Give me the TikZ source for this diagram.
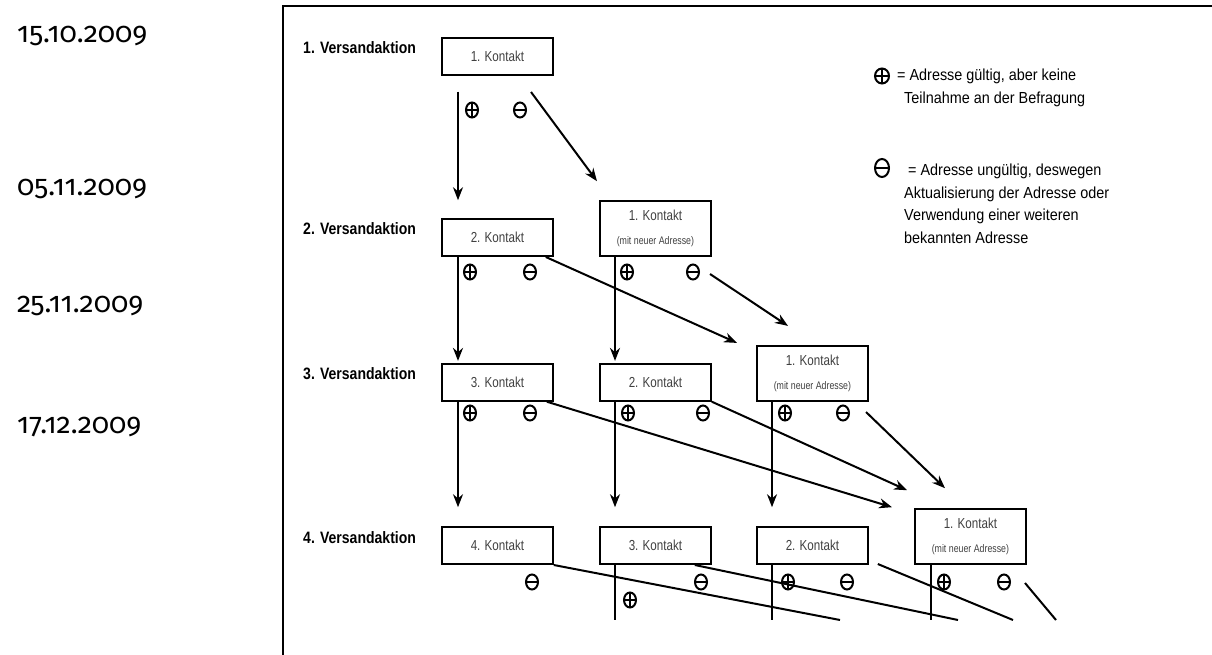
\documentclass[tikz,border=0pt]{standalone}
\usepackage{fontspec}
\setmainfont{Liberation Sans}
\newfontfamily\schmal[FakeStretch=0.9]{Liberation Sans}
\newfontfamily\kastenfont[FakeStretch=0.8]{Liberation Sans}
\newfontfamily\aktionfont[FakeStretch=0.85]{Liberation Sans}
\newfontfamily\datumfont[Numbers=OldStyle]{Fira Sans}
\usetikzlibrary{arrows.meta, shapes.geometric, positioning}

\tikzset{
  aktion/.style={anchor=west, inner sep=0pt, font=\aktionfont\bfseries\fontsize{16.5}{18}\selectfont},
  datum/.style={anchor=base west, inner sep=0pt, font=\datumfont\fontsize{28.5}{30}\selectfont},
  kontakt/.style={draw, line width=1.8pt, anchor=south west, minimum width=111pt, minimum height=37pt,
    inner sep=0pt, align=center, text=black!75, font=\kastenfont\fontsize{14.5}{16}\selectfont},
  neu/.style={kontakt, minimum height=55pt},
  pfeil/.style={line width=2pt, -{Stealth[length=13pt,width=10pt]}},
  linie/.style={line width=2pt},
  zeichen/.style={ellipse, draw, line width=2pt, minimum width=12pt, minimum height=15pt, inner sep=0pt},
  gueltig/.style={zeichen, path picture={\draw[line width=2pt]
    (path picture bounding box.west) -- (path picture bounding box.east)
    (path picture bounding box.north) -- (path picture bounding box.south);}},
  ungueltig/.style={zeichen, path picture={\draw[line width=2pt]
    (path picture bounding box.west) -- (path picture bounding box.east);}},
  legende/.style={anchor=north west, inner sep=0pt, align=left, font=\schmal\fontsize{16}{22.5}\selectfont},
}

\begin{document}
\begin{tikzpicture}[x=1pt, y=-1pt]
  \useasboundingbox (0,0) rectangle (1212,655);
  % Rahmen
  \draw[line width=1.4pt] (283,655) -- (283,6) -- (1212,6);

  % Termine
  \node[datum] (t1) at (17,43) {15.10.2009};
  \node[datum] (t2) at (17,196) {05.11.2009};
  \node[datum] (t3) at (17,312) {25.11.2009};
  \node[datum] (t4) at (17,433) {17.12.2009};

  % Versandaktionen
  \node[aktion] (v1) at (303,48) {1. Versandaktion};
  \node[aktion] (v2) at (303,229) {2. Versandaktion};
  \node[aktion] (v3) at (303,374) {3. Versandaktion};
  \node[aktion] (v4) at (303,538) {4. Versandaktion};

  % Kontakte
  \node[kontakt] (k11) at (441,75.7) {1. Kontakt};

  \node[kontakt] (k21) at (441,257) {2. Kontakt};
  \node[neu] (k22) at (599,257) {1. Kontakt\\[8pt]{\fontsize{11}{12}\selectfont (mit neuer Adresse)}};

  \node[kontakt] (k31) at (441,401.7) {3. Kontakt};
  \node[kontakt] (k32) at (599,401.7) {2. Kontakt};
  \node[neu] (k33) at (756,401.7) {1. Kontakt\\[8pt]{\fontsize{11}{12}\selectfont (mit neuer Adresse)}};

  \node[kontakt] (k41) at (441,565) {4. Kontakt};
  \node[kontakt] (k42) at (599,565) {3. Kontakt};
  \node[kontakt] (k43) at (756,565) {2. Kontakt};
  \node[neu] (k44) at (914,565) {1. Kontakt\\[8pt]{\fontsize{11}{12}\selectfont (mit neuer Adresse)}};

  % Zeichen
  \node[gueltig] (p11) at (472,110) {};
  \node[ungueltig] (m11) at (520,110) {};

  \node[gueltig] (p21) at (470,272) {};
  \node[ungueltig] (m21) at (530,272) {};
  \node[gueltig] (p22) at (627,272) {};
  \node[ungueltig] (m22) at (693,272) {};

  \node[gueltig] (p31) at (470,413) {};
  \node[ungueltig] (m31) at (530,413) {};
  \node[gueltig] (p32) at (628,413) {};
  \node[ungueltig] (m32) at (703,413) {};
  \node[gueltig] (p33) at (785,413) {};
  \node[ungueltig] (m33) at (843,413) {};

  \node[ungueltig] (m41) at (532,582) {};
  \node[gueltig] (p42) at (630,600) {};
  \node[ungueltig] (m42) at (701,582) {};
  \node[gueltig] (p43) at (788,582) {};
  \node[ungueltig] (m43) at (847,582) {};
  \node[gueltig] (p44) at (944,582) {};
  \node[ungueltig] (m44) at (1004,582) {};

  % Legende
  \node[gueltig, minimum width=14pt, minimum height=15pt] (lp) at (882,76) {};
  \node[legende] (lt1) at (897,69) {= Adresse gültig, aber keine\\\hspace*{7pt}Teilnahme an der Befragung};
  \node[ungueltig, minimum width=14pt, minimum height=18pt] (lm) at (882,168) {};
  \node[legende] (lt2) at (904,164) {\hspace*{4pt}= Adresse ungültig, deswegen\\Aktualisierung der Adresse oder\\Verwendung einer weiteren\\bekannten Adresse};

  % 1. Versandaktion
  \draw[pfeil] ([shift={(17,16)}]k11.south west) -- ([shift={(17,-18)}]k21.north west);
  \draw[pfeil] ([shift={(11,-18)}]m11.center) -- ([shift={(-2,-19)}]k22.north west);

  % 2. Versandaktion
  \draw[pfeil] ([xshift=17pt]k21.south west) -- ([shift={(17,-2)}]k31.north west);
  \draw[pfeil] ([xshift=16pt]k22.south west) -- ([shift={(16,-2)}]k32.north west);
  \draw[pfeil] ([xshift=-8pt]k21.south east) -- ([shift={(-19,-2)}]k33.north west);
  \draw[pfeil] ([shift={(17,2)}]m22.center) -- ([shift={(32,-19)}]k33.north west);

  % 3. Versandaktion
  \draw[pfeil] ([xshift=17pt]k31.south west) -- ([shift={(17,-19)}]k41.north west);
  \draw[pfeil] ([xshift=16pt]k32.south west) -- ([shift={(16,-19)}]k42.north west);
  \draw[pfeil] ([xshift=16pt]k33.south west) -- ([shift={(16,-19)}]k43.north west);
  \draw[pfeil] ([xshift=-7pt]k31.south east) -- ([shift={(-22,-1)}]k44.north west);
  \draw[pfeil] (k32.south east) -- ([shift={(-7,-18)}]k44.north west);
  \draw[pfeil] ([shift={(23,-1)}]m33.center) -- ([shift={(31,-20)}]k44.north west);

  % 4. Versandaktion (abgeschnitten)
  \coordinate (e1) at (840,620);
  \coordinate (e2) at (958,620);
  \coordinate (e3) at (1013,620);
  \coordinate (e4) at (1056,620);
  \coordinate (e5) at (615,620);
  \coordinate (e6) at (772,620);
  \coordinate (e7) at (931,620);
  \draw[linie] ([xshift=16pt]k42.south west) -- (e5);
  \draw[linie] ([xshift=16pt]k43.south west) -- (e6);
  \draw[linie] ([xshift=17pt]k44.south west) -- (e7);
  \draw[linie] (k41.south east) -- (e1);
  \draw[linie] ([xshift=-17pt]k42.south east) -- (e2);
  \draw[linie] ([shift={(9,-1)}]k43.south east) -- (e3);
  \draw[linie] ([shift={(21,1)}]m44.center) -- (e4);
\end{tikzpicture}
\end{document}
